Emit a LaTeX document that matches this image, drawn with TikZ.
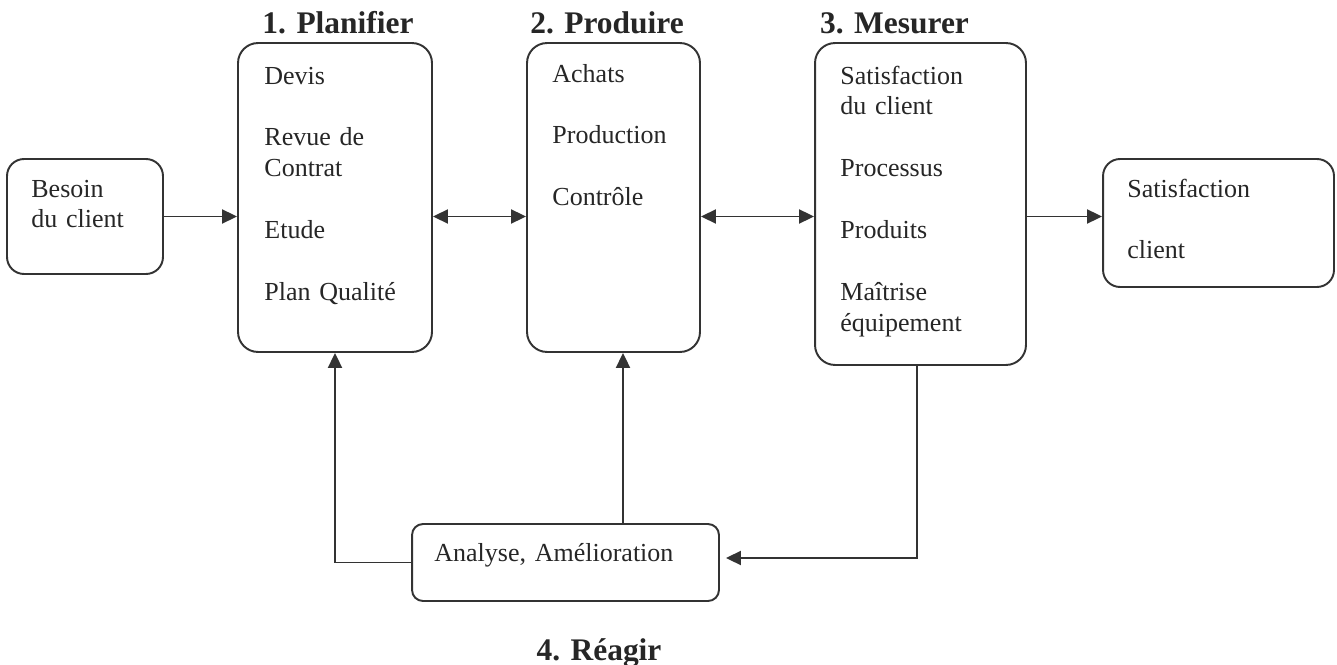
\documentclass[tikz,border=0pt]{standalone}
\usepackage{fontspec}
\setmainfont{Liberation Serif}
\usetikzlibrary{arrows.meta, positioning, calc}

\begin{document}
\begin{tikzpicture}[
			x=0.02cm, y=-0.02cm,
			box/.style={rectangle, rounded corners=0.4cm, draw=black!80, line width=1.1pt, inner sep=0pt},
			txt/.style={anchor=base west, inner sep=0pt, text width=5cm, align=left, text=black!85, font=\fontsize{14.8}{17.6}\selectfont},
			phase/.style={anchor=base, inner sep=0pt, text=black!85, font=\fontsize{17.9}{20}\selectfont\bfseries},
			arrow/.style={line width=1.1pt, draw=black!80, -{Triangle[length=0.3cm, width=0.28cm]}},
			darrow/.style={line width=1.1pt, draw=black!80, {Triangle[length=0.3cm, width=0.28cm]}-{Triangle[length=0.3cm, width=0.28cm]}},
			line/.style={line width=1.1pt, draw=black!80}
		]
		\useasboundingbox (0,0) rectangle (1337,665);

		% --- BOITES ---
		\node (besoin) [box, rounded corners=0.34cm, minimum width=3.12cm, minimum height=2.30cm] at (85,216.5) {};
		\node (plan) [box, minimum width=3.88cm, minimum height=6.18cm] at (335,197.5) {};
		\node (prod) [box, minimum width=3.46cm, minimum height=6.18cm] at (613.5,197.5) {};
		\node (mes) [box, minimum width=4.22cm, minimum height=6.44cm] at (920.5,204) {};
		\node (satis) [box, rounded corners=0.34cm, minimum width=4.62cm, minimum height=2.56cm] at (1218.5,223) {};
		\node (ana) [box, rounded corners=0.22cm, minimum width=6.14cm, minimum height=1.54cm] at (565.5,562.5) {};

		% --- TITRES DES PHASES ---
		\node (t_plan) [phase] at (338,34) {1. Planifier};
		\node (t_prod) [phase] at (607,34) {2. Produire};
		\node (t_mes) [phase] at (894.5,34) {3. Mesurer};
		\node (t_reag) [phase] at (599,660) {4. Réagir};

		% --- TEXTES ---
		\node (besoin_txt) [txt] at ($(besoin.north west)+(25,39)$) {Besoin\\du client};
		\node (plan_txt) [txt] at ($(plan.north west)+(27,42)$) {Devis\\[17.6pt]Revue de\\Contrat\\[17.6pt]Etude\\[17.6pt]Plan Qualité};
		\node (prod_txt) [txt] at ($(prod.north west)+(26,40)$) {Achats\\[17.6pt]Production\\[17.6pt]Contrôle};
		\node (mes_txt) [txt] at ($(mes.north west)+(26,42)$) {Satisfaction\\du client\\[17.6pt]Processus\\[17.6pt]Produits\\[17.6pt]Maîtrise\\équipement};
		\node (satis_txt) [txt] at ($(satis.north west)+(25,39)$) {Satisfaction\\[17.6pt]client};
		\node (ana_txt) [txt] at ($(ana.north west)+(23,38)$) {Analyse, Amélioration};

		% --- COLLEGAMENTI ---
		\draw [arrow] (besoin.east) -- (besoin.east -| plan.west);
		\draw [darrow] (plan.east |- besoin.east) -- (prod.west |- besoin.east);
		\draw [darrow] (prod.east |- besoin.east) -- (mes.west |- besoin.east);
		\draw [arrow] (mes.east |- besoin.east) -- (satis.west |- besoin.east);

		% Boucle de retour
		\draw [arrow, shorten >=0.12cm] ([xshift=-0.07cm]mes.south) |- ([yshift=0.09cm]ana.east);
		\draw [arrow] (ana.west) -| (plan.south);
		\draw [arrow] ([xshift=0.19cm]prod.south |- ana.north) -- ([xshift=0.19cm]prod.south);
	\end{tikzpicture}
\end{document}
